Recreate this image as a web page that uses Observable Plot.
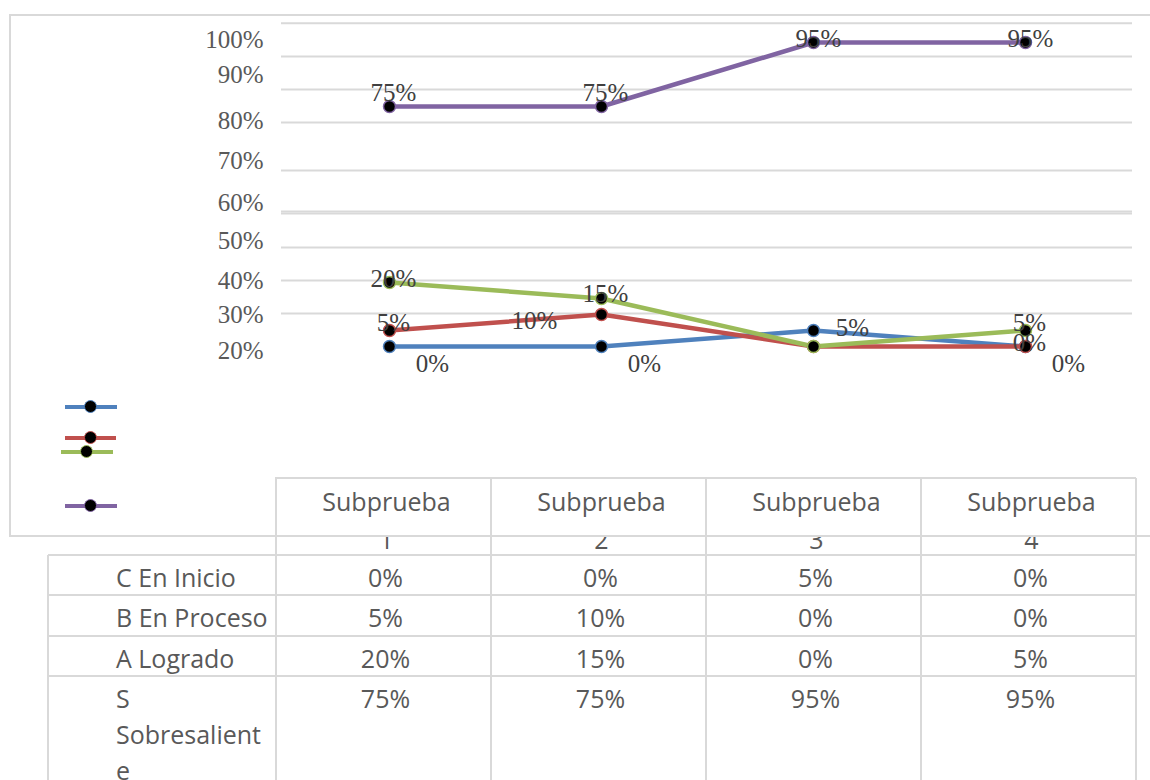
<!DOCTYPE html>
<html><head><meta charset="utf-8">
<script src="https://cdn.jsdelivr.net/npm/d3@7"></script>
<script src="https://cdn.jsdelivr.net/npm/@observablehq/plot@0.6"></script>
<style>
body{margin:0;background:#fff}
#wrap{position:relative;width:1150px;height:780px;overflow:hidden;font-family:"Open Sans",sans-serif;color:#595959;background:#fff}
.ln{position:absolute;background:#d9d9d9}
.cell{position:absolute;font-size:25px;line-height:36px}
#chart{position:absolute;left:0;top:0}
.sw{position:absolute;height:4px}
.dot{position:absolute;width:11px;height:11px;border-radius:50%;background:#000;border:1.5px solid}
</style></head>
<body><div id="wrap"></div>
<script>
// ---- data ----
const categories = ["Subprueba 1", "Subprueba 2", "Subprueba 3", "Subprueba 4"];
const seriesNames = ["C En Inicio", "B En Proceso", "A Logrado", "S Sobresaliente"];
const enInicio = [0, 0, 5, 0];
const enProceso = [5, 10, 0, 0];
const logrado = [20, 15, 0, 5];
const sobresaliente = [75, 75, 95, 95];
const seriesColors = ["#4F81BD", "#C0504D", "#9BBB59", "#8064A2"];
const yTickValues = [95.9, 84.7, 70.6, 58.1, 45, 33.1, 20.6, 10, -1.25];
const yTickLabels = ["100%", "90%", "80%", "70%", "60%", "50%", "40%", "30%", "20%"];
const gridValues = [101, 90.6, 80.3, 70, 55, 42.2, 41.6, 30.9, 20.6, 10.3];

const seriesValues = [enInicio, enProceso, logrado, sobresaliente];
const rows = [];
seriesNames.forEach((s, si) => categories.forEach((c, ci) => rows.push({series: s, cat: c, v: seriesValues[si][ci], i: ci})));

// ---- label placement (style) ----
const labelNudge = {
  "C En Inicio": [[0, 43, 17], [1, 43, 17], [2, 39, -3], [3, 43, 17]],
  "B En Proceso": [[0, 4, -8], [1, -67, 6], [3, 4, -4]],
  "A Logrado": [[0, 4, -4], [1, 4, -5], [3, 4, -8]],
  "S Sobresaliente": [[0, 4, -14], [1, 4, -14], [2, 5, -4], [3, 5, -4]]
};
const serif = "'Liberation Serif', serif";
const labelMarks = [];
for (const s of seriesNames) {
  for (const [idx, dx, dy] of labelNudge[s]) {
    labelMarks.push(Plot.text(rows.filter(d => d.series === s && d.i === idx), {
      x: "cat", y: "v", text: d => d.v + "%", dx, dy,
      fontSize: 25, fontFamily: serif, fill: "#404040"
    }));
  }
}

const tickLabelMap = new Map(yTickValues.map((v, i) => [v, yTickLabels[i]]));

const wrap = document.getElementById("wrap");
function add(cls, css, text) {
  const d = document.createElement("div");
  d.className = cls;
  Object.assign(d.style, css);
  if (text != null) d.textContent = text;
  wrap.appendChild(d);
  return d;
}
const hline = (x1, x2, y) => add("ln", {left: x1 + "px", top: (y - 1) + "px", width: (x2 - x1) + "px", height: "2px"});
const vline = (x, y1, y2) => add("ln", {left: (x - 1) + "px", top: y1 + "px", width: "2px", height: (y2 - y1) + "px"});

// ---- table (HTML) ----
const tLeft = 48, firstW = 228, colW = 215;
const colEdges = [tLeft, tLeft + firstW];
for (let k = 0; k < categories.length; k++) colEdges.push(colEdges[colEdges.length - 1] + colW);
const headTop = 478, headLine = 536, rowTops = [555, 595, 636, 676], bottom = 780;

categories.forEach((c, ci) => {
  const x0 = colEdges[ci + 1];
  add("cell", {left: (x0 + (colW - 140) / 2 + 3) + "px", top: (headTop + 4) + "px", width: "140px", textAlign: "center", lineHeight: "38px"}, c);
});
// mask hiding the top of wrapped header digits
add("", {position: "absolute", left: (colEdges[1] + 1) + "px", top: "519px", width: (colEdges[colEdges.length - 1] - colEdges[1] - 2) + "px", height: "16px", background: "#fff"});

seriesNames.forEach((s, si) => {
  const top = rowTops[si];
  add("cell", {left: "116px", top: (top + 4) + "px", width: "156px", overflowWrap: "anywhere"}, s);
  categories.forEach((c, ci) => {
    const x0 = colEdges[ci + 1];
    add("cell", {left: (x0 + 2) + "px", top: (top + 4) + "px", width: colW + "px", textAlign: "center"}, seriesValues[si][ci] + "%");
  });
});

// chart frame
hline(10, 1150, 15);
vline(10, 14, 537);
hline(10, 1150, headLine);
// table lines
hline(colEdges[1], colEdges[colEdges.length - 1], headTop);
vline(colEdges[1], headTop - 1, bottom);
for (let k = 2; k < colEdges.length; k++) vline(colEdges[k], headTop, bottom);
vline(tLeft, rowTops[0], bottom);
rowTops.forEach(y => hline(tLeft, colEdges[colEdges.length - 1], y));

// ---- legend swatches (no text in original) ----
const legendPos = [[65, 117, 407], [65, 116, 438], [61, 113, 452], [65, 117, 506]];
seriesNames.forEach((s, si) => {
  const [x1, x2, y] = legendPos[si];
  const sw = add("sw", {left: x1 + "px", top: (y - 2) + "px", width: (x2 - x1) + "px", background: seriesColors[si]});
  sw.title = s;
  const cx = (x1 + x2) / 2;
  add("dot", {left: (cx - 7) + "px", top: (y - 7) + "px", borderColor: seriesColors[si]});
});

// ---- chart (Plot) ----
const chart = Plot.plot({
  width: 1150,
  height: 380,
  marginLeft: 281,
  marginRight: 18,
  marginTop: 26,
  marginBottom: 34,
  style: {background: "transparent", overflow: "visible"},
  x: {type: "point", domain: categories, padding: 0.5, axis: null},
  y: {domain: [0, 100]},
  color: {domain: seriesNames, range: seriesColors},
  marks: [
    Plot.ruleY(gridValues, {stroke: "#d9d9d9", strokeWidth: 2}),
    Plot.axisY(yTickValues, {
      tickSize: 0, tickPadding: 18, label: null,
      tickFormat: d => tickLabelMap.get(d),
      fontSize: 25, fontFamily: serif, fill: "#595959"
    }),
    Plot.line(rows, {x: "cat", y: "v", z: "series", stroke: "series", strokeWidth: 4.5, strokeLinejoin: "round"}),
    Plot.dot(rows, {x: "cat", y: "v", r: 6, fill: "#000", stroke: "series", strokeWidth: 1.5}),
    ...labelMarks
  ]
});
const holder = document.createElement("div");
holder.id = "chart";
holder.appendChild(chart);
wrap.appendChild(holder);
</script>
</body></html>
